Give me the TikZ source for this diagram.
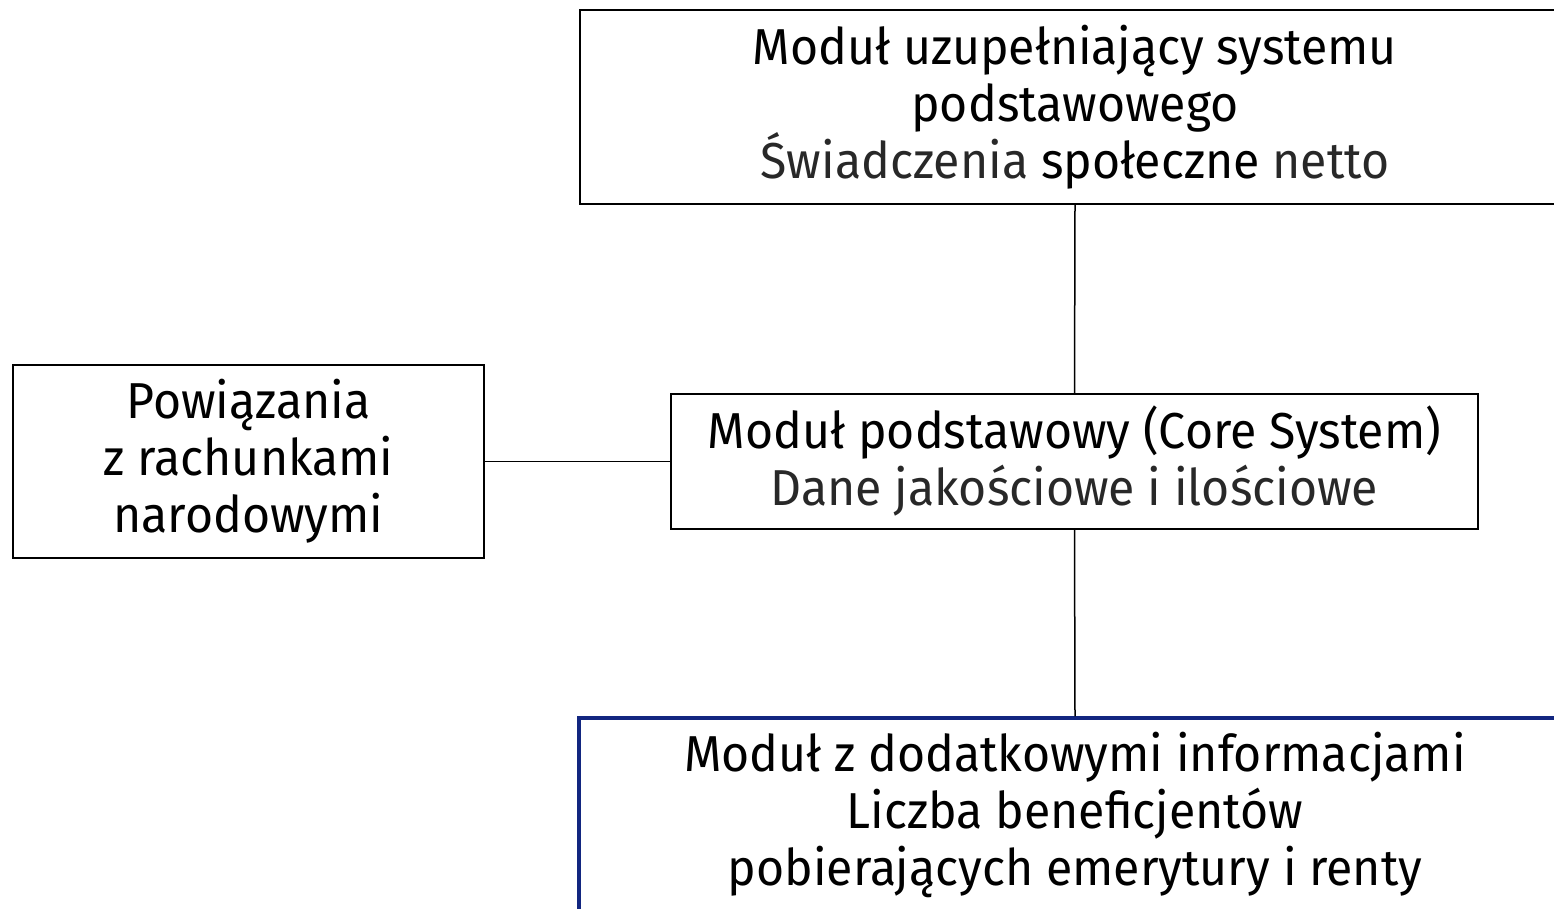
\documentclass[tikz,border=0pt]{standalone}
\usepackage{fontspec}
\setmainfont{Fira Sans}[FakeStretch=0.955]
\definecolor{boxblue}{RGB}{18,38,128}
\definecolor{txtgray}{RGB}{40,40,40}
\begin{document}
\begin{tikzpicture}[x=1pt,y=-1pt,
  box/.style={draw=black,line width=1.5pt,rectangle,inner sep=0pt,align=center,
    font=\fontsize{50.5}{57}\selectfont},
  link/.style={draw=black,line width=1.5pt}]
\useasboundingbox (0,0) rectangle (1554,909);
\node[box,minimum width=990,minimum height=194] (top) at (1075,107)
  {Moduł uzupełniający systemu\\podstawowego\\{\color{txtgray}Świadczenia} społeczne {\color{txtgray}netto}};
\node[box,minimum width=807,minimum height=135] (core) at (1074.5,461.5)
  {Moduł podstawowy (Core System)\\{\color{txtgray}Dane jakościowe i ilościowe}};
\node[box,minimum width=471,minimum height=193] (left) at (248.5,461.5)
  {Powiązania\\z rachunkami\\narodowymi};
\node[box,draw=boxblue,line width=3.5pt,minimum width=992,minimum height=194] (bot) at (1075,815)
  {Moduł z dodatkowymi informacjami\\Liczba beneficjentów\\pobierających emerytury i renty};
\draw[link] (top.south) -- (core.north);
\draw[link] (core.south) -- (bot.north);
\draw[link] (left.east) -- (core.west);
\end{tikzpicture}
\end{document}
